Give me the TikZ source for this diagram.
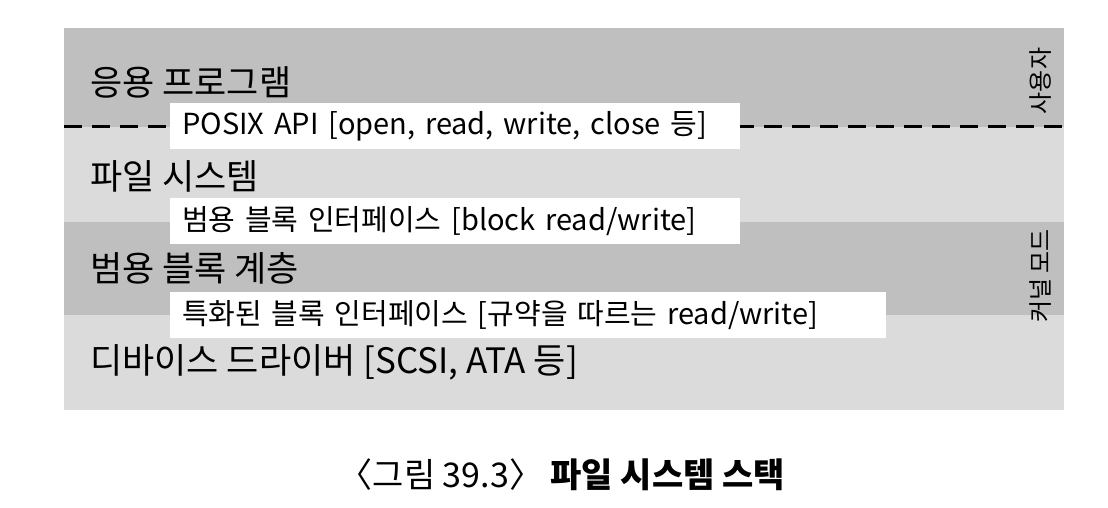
\documentclass[tikz,border=0pt]{standalone}
\usepackage{fontspec}
\setmainfont{Noto Sans CJK KR}
\newfontfamily\kr{Noto Sans CJK KR}
\begin{document}
\begin{tikzpicture}[x=1pt,y=-1pt,
  lbl/.style={anchor=west,font=\fontsize{35}{40}\selectfont\kr,inner sep=0pt},
  ifbox/.style={anchor=west,fill=white,font=\fontsize{29}{34}\selectfont\kr,inner xsep=12pt,inner ysep=0pt,minimum height=46pt,align=left},
  side/.style={rotate=90,font=\fontsize{24}{28}\selectfont\kr,inner sep=0pt}]
\useasboundingbox (0,0) rectangle (1108,508);
\fill[fill=white] (0,0) rectangle (1108,508);
\fill[fill=black!25] (64,28) rectangle (1064,127);
\fill[fill=black!14] (64,127) rectangle (1064,222);
\fill[fill=black!25] (64,222) rectangle (1064,315);
\fill[fill=black!14] (64,315) rectangle (1064,410);
\coordinate (dl) at (64,127);
\coordinate (dr) at (1064,127);
\draw[line width=3pt,dash pattern=on 18pt off 10pt] (dl) -- (dr);
\node[lbl] (app) at (90,82) {응용 프로그램};
\node[lbl] (fs) at (90,176) {파일 시스템};
\node[lbl] (gbl) at (90,268) {범용 블록 계층};
\node[lbl] (dev) at (90,362) {디바이스 드라이버 [SCSI, ATA 등]};
\node[ifbox,text width=546pt] (posix) at (170,126) {POSIX API [open, read, write, close 등]};
\node[ifbox,text width=546pt] (gbi) at (170,221) {범용 블록 인터페이스 [block read/write]};
\node[ifbox,text width=692pt] (sbi) at (170,315) {특화된 블록 인터페이스 [규약을 따르는 read/write]};
\node[side] (user) at (1040,81) {사용자};
\node[side] (kern) at (1040,276) {커널 모드};
\node[font=\fontsize{34}{40}\selectfont\kr] (cap) at (562,475) {〈그림 39.3〉 \textbf{파일 시스템 스택}};
\end{tikzpicture}
\end{document}
